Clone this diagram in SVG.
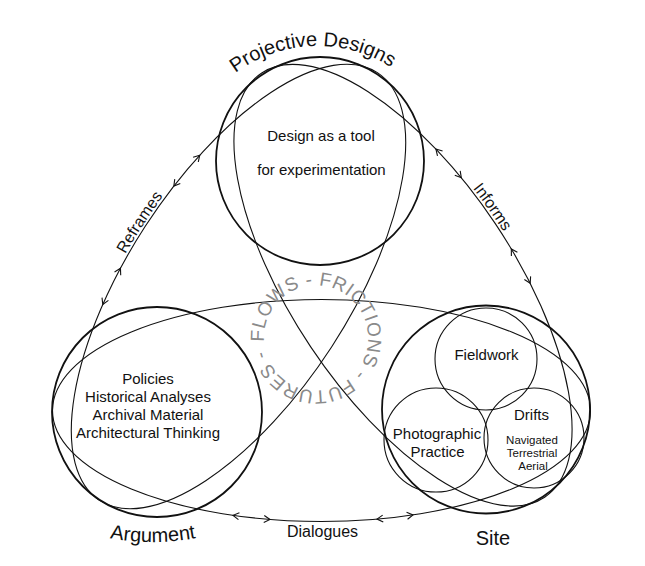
<svg xmlns="http://www.w3.org/2000/svg" width="645" height="566" viewBox="0 0 645 566">
<style>
 .main{fill:none;stroke:#111;stroke-width:1.8}
 .sub{fill:none;stroke:#111;stroke-width:1.1}
 .ell{fill:none;stroke:#111;stroke-width:1.1}
 .ah{fill:none;stroke:#111;stroke-width:1.1}
 text{font-family:"Liberation Sans",Arial,sans-serif;fill:#111}
 .t15{font-size:15px}
 .t12{font-size:11.5px}
 .title{font-size:20px}
 .lab{font-size:16px}
 .ring{font-size:19px;fill:#8a8a8a;letter-spacing:0.5px}
 .mid{text-anchor:middle}
</style>
<defs>
 <path id="ah" d="M -6,-3.5 L 0,0 L -6,3.5"/>
 <path id="pTitle" d="M 179.5,184 A 138,138 0 0 1 455.5,184"/>
 <path id="pRing" d="M 264.13,341.63 A 52,52 0 1 1 367.87,334.37 A 52,52 0 1 1 264.13,341.63"/>
 <path id="pArg" d="M 95,535 Q 153,549 211,535"/>
 <path id="pRef" d="M -100,-104.56 A 257,113.5 0 0 1 100,-104.56"/>
 <path id="pInf" d="M -115,-101.5 A 257,113.5 0 0 1 85,-107.11"/>
</defs>
<rect width="645" height="566" fill="#fff"/>

<g id="connectors">
 <g id="dialogues" transform="translate(321.5,410.5)">
  <ellipse class="ell" cx="0" cy="0" rx="269" ry="111"/>
  <use href="#ah" class="ah" transform="translate(-88.5,104.82) rotate(188.18)"/>
  <use href="#ah" class="ah" transform="translate(-51.5,108.95) rotate(4.6)"/>
  <use href="#ah" class="ah" transform="translate(55.5,108.61) rotate(175.03)"/>
  <use href="#ah" class="ah" transform="translate(91.5,104.38) rotate(-8.49)"/>
  <text class="lab mid" x="1" y="126.5">Dialogues</text>
 </g>
 <g id="reframes" transform="translate(238.5,286.5) rotate(-57)">
  <ellipse class="ell" cx="0" cy="0" rx="255" ry="111"/>
  <use href="#ah" class="ah" transform="translate(89,-104.02) rotate(9.21)"/>
  <use href="#ah" class="ah" transform="translate(49,-108.93) rotate(184.87)"/>
  <use href="#ah" class="ah" transform="translate(-49,-108.93) rotate(-4.87)"/>
  <use href="#ah" class="ah" transform="translate(-89,-104.02) rotate(170.79)"/>
  <text class="lab"><textPath href="#pRef" startOffset="50%" text-anchor="middle">Reframes</textPath></text>
 </g>
 <g id="informs" transform="translate(403,285.25) rotate(56.26)">
  <ellipse class="ell" cx="0" cy="0" rx="255" ry="111"/>
  <use href="#ah" class="ah" transform="translate(-95,-103.01) rotate(170.09)"/>
  <use href="#ah" class="ah" transform="translate(-57,-108.19) rotate(-5.7)"/>
  <use href="#ah" class="ah" transform="translate(30,-110.23) rotate(182.95)"/>
  <use href="#ah" class="ah" transform="translate(69,-106.86) rotate(6.98)"/>
  <text class="lab"><textPath href="#pInf" startOffset="50%" text-anchor="middle">Informs</textPath></text>
 </g>
</g>

<g id="projective">
 <circle class="main" cx="320" cy="161" r="104"/>
 <text class="title"><textPath href="#pTitle" startOffset="211.5" text-anchor="middle">Projective Designs</textPath></text>
 <text class="t15 mid" x="321" y="141">Design as a tool</text>
 <text class="t15 mid" x="321.5" y="175">for experimentation</text>
</g>

<g id="argument">
 <circle class="main" cx="157" cy="412" r="105"/>
 <text class="t15 mid" x="148" y="384">Policies</text>
 <text class="t15 mid" x="148" y="402">Historical Analyses</text>
 <text class="t15 mid" x="148" y="420">Archival Material</text>
 <text class="t15 mid" x="148" y="438">Architectural Thinking</text>
 <text class="title"><textPath href="#pArg" startOffset="50%" text-anchor="middle">Argument</textPath></text>
</g>

<g id="site">
 <circle class="main" cx="486" cy="409.5" r="104"/>
 <text class="title mid" x="493" y="545">Site</text>
</g>

<g id="fieldwork">
 <circle class="sub" cx="486" cy="359" r="51"/>
 <text class="t15 mid" x="486.5" y="360">Fieldwork</text>
</g>

<g id="photographic">
 <circle class="sub" cx="436" cy="440" r="52"/>
 <text class="t15 mid" x="437" y="439">Photographic</text>
 <text class="t15 mid" x="437.5" y="457">Practice</text>
</g>

<g id="drifts">
 <circle class="sub" cx="534" cy="438" r="50"/>
 <text class="t15 mid" x="531.5" y="420">Drifts</text>
 <text class="t12 mid" x="532" y="444">Navigated</text>
 <text class="t12 mid" x="532" y="457">Terrestrial</text>
 <text class="t12 mid" x="533" y="470">Aerial</text>
</g>

<g id="ring">
 <text class="ring"><textPath href="#pRing">FLOWS - FRICTIONS - FUTURES - </textPath></text>
</g>
</svg>
